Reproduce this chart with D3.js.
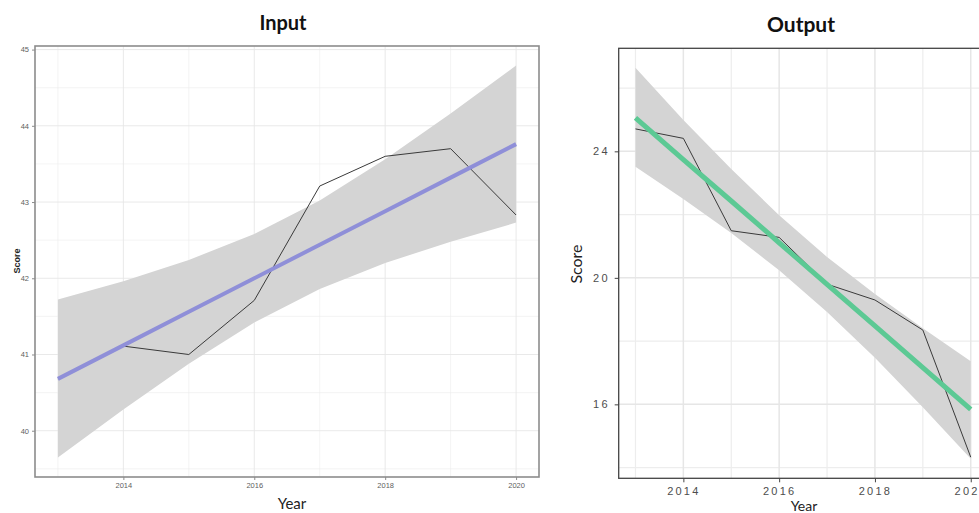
<!DOCTYPE html>
<html>
<head>
<meta charset="utf-8">
<script src="https://cdn.jsdelivr.net/npm/d3@7"></script>
<style>
  html, body { margin: 0; padding: 0; background: #fff; }
  svg { display: block; }
  text { -webkit-font-smoothing: antialiased; }
</style>
</head>
<body>
<svg id="chart" width="979" height="513"></svg>
<script>
// ---- data ----
const years = [2013, 2014, 2015, 2016, 2017, 2018, 2019, 2020];
const xTickLabels = [2014, 2016, 2018, 2020];

const inputScore = [40.68, 41.11, 41.0, 41.71, 43.21, 43.6, 43.7, 42.83];
const inputFit   = [40.68, 41.12, 41.56, 42.00, 42.44, 42.88, 43.32, 43.76];
const inputLower = [39.65, 40.28, 40.88, 41.42, 41.86, 42.20, 42.48, 42.73];
const inputUpper = [41.72, 41.96, 42.24, 42.58, 43.02, 43.56, 44.16, 44.79];
const inputYTicks = [40, 41, 42, 43, 44, 45];

const outputScore = [24.71, 24.41, 21.49, 21.28, 19.8, 19.3, 18.35, 14.33];
const outputFit   = [25.06, 23.74, 22.43, 21.11, 19.79, 18.48, 17.16, 15.84];
const outputLower = [23.51, 22.49, 21.42, 20.24, 18.92, 17.47, 15.91, 14.28];
const outputUpper = [26.64, 24.99, 23.44, 21.98, 20.66, 19.49, 18.41, 17.36];
const outputYTicks = [16, 20, 24];

const svg = d3.select("#chart");

function drawPanel(o) {
  const g = svg.append("g");
  const rows = years.map((yr, i) => ({ yr, v: o.score[i], fit: o.fit[i], lo: o.lower[i], hi: o.upper[i] }));
  const xr = d3.extent(years), xpad = (xr[1] - xr[0]) * 0.05;
  const yr = [d3.min(o.lower.concat(o.score)), d3.max(o.upper.concat(o.score))];
  const ypad = (yr[1] - yr[0]) * 0.05;
  const x = d3.scaleLinear().domain([xr[0] - xpad, xr[1] + xpad]).range([o.left, o.right]);
  const y = d3.scaleLinear().domain([yr[0] - ypad, yr[1] + ypad]).range([o.bottom, o.top]);

  // grid: minor
  const minorX = d3.range(Math.ceil(x.domain()[0]), x.domain()[1], 1).filter(v => !xTickLabels.includes(v));
  const step = o.yTicks[1] - o.yTicks[0];
  const minorY = d3.range(o.yTicks[0] - step / 2, y.domain()[1], step).filter(v => v > y.domain()[0]);
  g.selectAll(".mgx").data(minorX).join("line")
    .attr("x1", d => x(d)).attr("x2", d => x(d)).attr("y1", o.top).attr("y2", o.bottom)
    .attr("stroke", "#ededed").attr("stroke-width", o.minorW);
  g.selectAll(".mgy").data(minorY).join("line")
    .attr("x1", o.left).attr("x2", o.right).attr("y1", d => y(d)).attr("y2", d => y(d))
    .attr("stroke", "#ededed").attr("stroke-width", o.minorW);
  // grid: major
  g.selectAll(".Mgx").data(xTickLabels).join("line")
    .attr("x1", d => x(d)).attr("x2", d => x(d)).attr("y1", o.top).attr("y2", o.bottom)
    .attr("stroke", "#e6e6e6").attr("stroke-width", o.majorW);
  g.selectAll(".Mgy").data(o.yTicks).join("line")
    .attr("x1", o.left).attr("x2", o.right).attr("y1", d => y(d)).attr("y2", d => y(d))
    .attr("stroke", "#e6e6e6").attr("stroke-width", o.majorW);

  // ribbon
  g.append("path").datum(rows)
    .attr("d", d3.area().x(d => x(d.yr)).y0(d => y(d.lo)).y1(d => y(d.hi)))
    .attr("fill", "#d4d4d4");
  // data line
  g.append("path").datum(rows)
    .attr("d", d3.line().x(d => x(d.yr)).y(d => y(d.v)))
    .attr("fill", "none").attr("stroke", "#3a3a3a").attr("stroke-width", 1);
  // fit line
  g.append("path").datum(rows)
    .attr("d", d3.line().x(d => x(d.yr)).y(d => y(d.fit)))
    .attr("fill", "none").attr("stroke", o.fitColor).attr("stroke-width", o.fitW);

  // border
  g.append("rect").attr("x", o.left).attr("y", o.top)
    .attr("width", o.right - o.left).attr("height", o.bottom - o.top)
    .attr("fill", "none").attr("stroke", o.borderColor).attr("stroke-width", o.borderW);

  // axes
  const ax = g.append("g").attr("transform", `translate(0,${o.bottom})`)
    .call(d3.axisBottom(x).tickValues(xTickLabels).tickFormat(d3.format("d")).tickSize(o.tickLen).tickPadding(o.tickPad));
  const ay = g.append("g").attr("transform", `translate(${o.left},0)`)
    .call(d3.axisLeft(y).tickValues(o.yTicks).tickFormat(d3.format("d")).tickSize(o.tickLen).tickPadding(o.tickPad));
  [ax, ay].forEach(a => {
    a.select(".domain").remove();
    a.selectAll(".tick line").attr("stroke", o.borderColor);
    a.selectAll("text").attr("fill", o.tickColor).attr("font-family", o.tickFont)
      .attr("font-size", o.tickSize).attr("letter-spacing", o.tickSpacing);
  });

  // titles
  g.append("text").attr("x", o.titleX).attr("y", o.titleY).attr("text-anchor", "middle")
    .attr("font-family", "Lato, 'Open Sans', sans-serif").attr("font-weight", 700)
    .attr("font-size", o.titleSize).attr("fill", "#111").text(o.title);
  g.append("text").attr("x", o.xLabX).attr("y", o.xLabY).attr("text-anchor", "middle")
    .attr("font-family", "Lato, 'Open Sans', sans-serif").attr("font-size", o.xLabSize)
    .attr("fill", "#222").text("Year");
  g.append("text").attr("transform", `translate(${o.yLabX},${o.yLabY}) rotate(-90)`)
    .attr("text-anchor", "middle").attr("font-family", o.yLabFont)
    .attr("font-size", o.yLabSize).attr("font-weight", o.yLabWeight)
    .attr("fill", "#222").text("Score");
}

drawPanel({
  score: inputScore, fit: inputFit, lower: inputLower, upper: inputUpper, yTicks: inputYTicks,
  left: 35, right: 539, top: 46, bottom: 477,
  fitColor: "#8f8fd8", fitW: 4, borderColor: "#8c8c8c", borderW: 1.6,
  minorW: 0.6, majorW: 0.9,
  tickLen: 3, tickPad: 3, tickColor: "#5e5e5e", tickFont: "Liberation Sans, Arial, sans-serif", tickSize: 7.5, tickSpacing: 0,
  title: "Input", titleX: 283, titleY: 30, titleSize: 20,
  xLabX: 292, xLabY: 509, xLabSize: 15,
  yLabX: 20, yLabY: 261, yLabFont: "Liberation Sans, Arial, sans-serif", yLabSize: 9, yLabWeight: 700
});

drawPanel({
  score: outputScore, fit: outputFit, lower: outputLower, upper: outputUpper, yTicks: outputYTicks,
  left: 618.7, right: 987.5, top: 48.3, bottom: 478.3,
  fitColor: "#5cc994", fitW: 5, borderColor: "#444", borderW: 1.3,
  minorW: 1.2, majorW: 1.5,
  tickLen: 4, tickPad: 5, tickColor: "#4d4d4d", tickFont: "Liberation Sans, Arial, sans-serif", tickSize: 11, tickSpacing: 2.2,
  title: "Output", titleX: 801, titleY: 32, titleSize: 21,
  xLabX: 804, xLabY: 511, xLabSize: 14,
  yLabX: 582, yLabY: 264, yLabFont: "Lato, sans-serif", yLabSize: 16, yLabWeight: 400
});
</script>
</body>
</html>
